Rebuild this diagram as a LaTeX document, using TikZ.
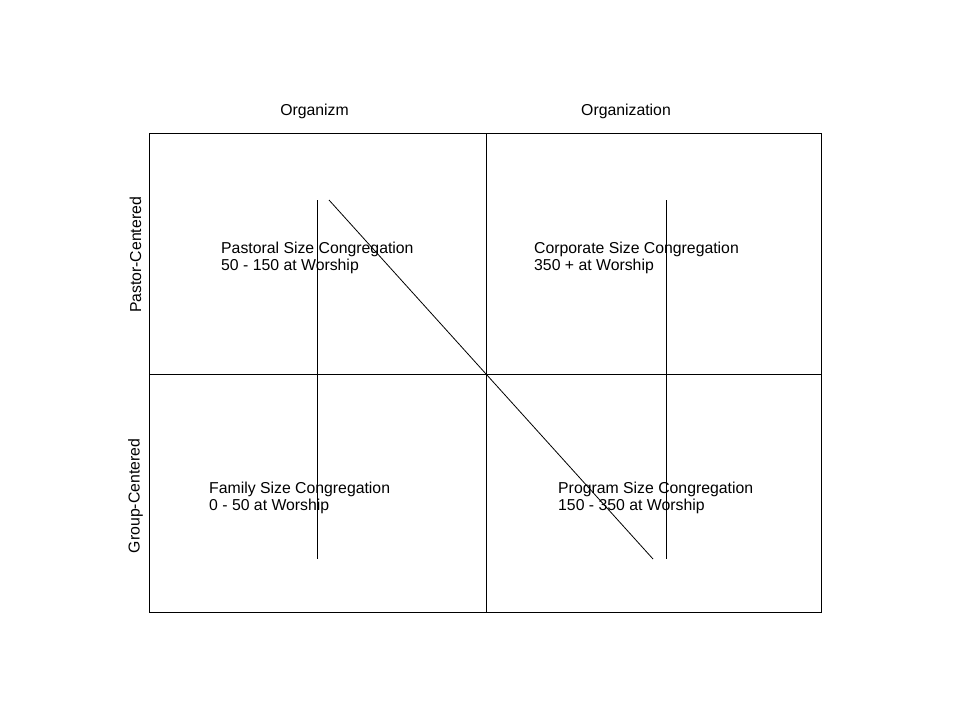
\documentclass[tikz,border=0pt]{standalone}
\usepackage{fontspec}
\setmainfont{Liberation Sans}
\usepackage{tikz}

\begin{document}
\begin{tikzpicture}
            [every node/.style={inner sep=0pt, font=\fontsize{15.8pt}{17pt}\selectfont},
             quadtext/.style={anchor=west, align=left},
             axislabel/.style={rotate=90},
             gridline/.style={line width=0.8pt, color=black}]
                \useasboundingbox (0pt, 0pt) rectangle (960pt, -720pt);
                \coordinate (nw) at (149pt, -133pt);
                \coordinate (se) at (821pt, -612pt);
                \coordinate (topmid) at (486pt, -133pt);
                \coordinate (botmid) at (486pt, -612pt);
                \coordinate (leftmid) at (149pt, -374pt);
                \coordinate (rightmid) at (821pt, -374pt);
                \coordinate (ltop) at (317pt, -200pt);
                \coordinate (lbot) at (317pt, -559pt);
                \coordinate (rtop) at (666pt, -200pt);
                \coordinate (rbot) at (666pt, -559pt);
                \coordinate (dtop) at (329pt, -200pt);
                \coordinate (dbot) at (653pt, -559pt);
                \draw [gridline] (nw) rectangle (se);
                \draw [gridline] (topmid) -- (botmid);
                \draw [gridline] (leftmid) -- (rightmid);
                \draw [gridline] (ltop) -- (lbot);
                \draw [gridline] (rtop) -- (rbot);
                \draw [gridline] (dtop) -- (dbot);
                \node (organizm) at (314.5pt, -111.5pt) {Organizm};
                \node (organization) at (626pt, -111.5pt) {Organization};
                \node (pastor) [axislabel] at (135.5pt, -255pt) {Pastor-Centered};
                \node (group) [axislabel] at (135.5pt, -496pt) {Group-Centered};
                \node (pastoral) [quadtext] at (221pt, -257.5pt) {Pastoral Size Congregation\\50 - 150 at Worship};
                \node (corporate) [quadtext] at (534pt, -257.5pt) {Corporate Size Congregation\\350 + at Worship};
                \node (family) [quadtext] at (209pt, -497.5pt) {Family Size Congregation\\0 - 50 at Worship};
                \node (program) [quadtext] at (558pt, -497.5pt) {Program Size Congregation\\150 - 350 at Worship};
            \end{tikzpicture}
\end{document}
